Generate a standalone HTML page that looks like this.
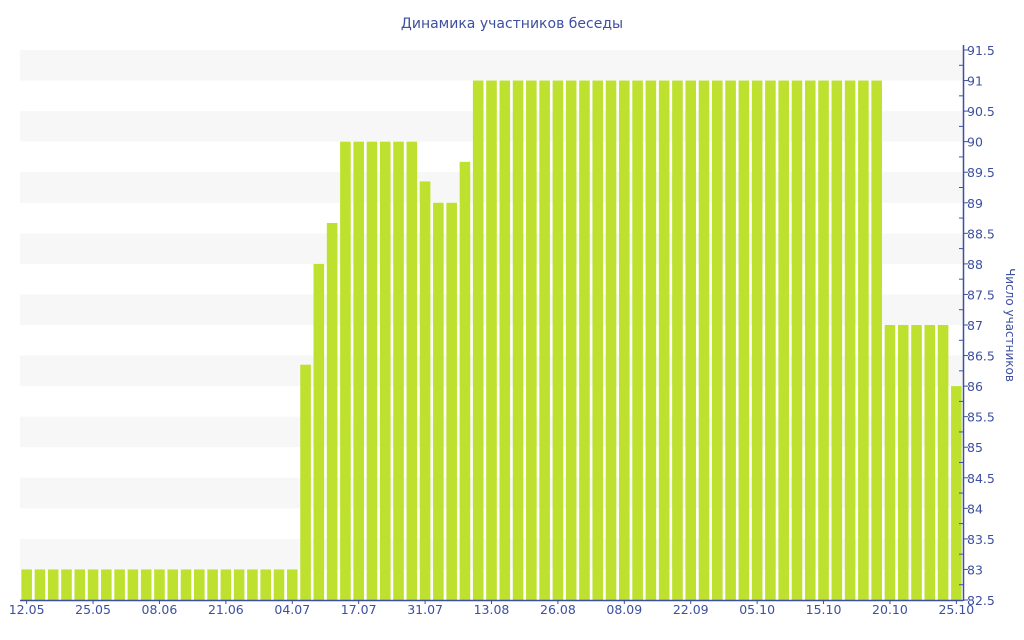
<!DOCTYPE html>
<html><head><meta charset="utf-8"><style>
body{margin:0;background:#fff;}
svg{display:block;font-family:"DejaVu Sans","Liberation Sans",sans-serif;}
</style></head><body>
<svg id="chart" width="1024" height="640">
<text x="512" y="28" text-anchor="middle" font-size="14" fill="#3d4fa0">Динамика участников беседы</text>
<g id="bands"></g><g id="bars"></g><g id="axes"></g>
<text transform="translate(1006,325) rotate(90)" text-anchor="middle" font-size="12" fill="#3d4fa0">Число участников</text>
</svg>
<script>
const tickLabels = ["12.05","25.05","08.06","21.06","04.07","17.07","31.07","13.08","26.08","08.09","22.09","05.10","15.10","20.10","25.10"];
const values = [83,83,83,83,83,83,83,83,83,83,83,83,83,83,83,83,83,83,83,83,83,
 86.35,88,88.67,90,90,90,90,90,90,89.35,89,89,89.67,
 91,91,91,91,91,91,91,91,91,91,91,91,91,91,91,91,91,91,91,91,91,91,91,91,91,91,91,91,91,91,91,
 87,87,87,87,87,86];
const yTicks = [82.5,83,83.5,84,84.5,85,85.5,86,86.5,87,87.5,88,88.5,89,89.5,90,90.5,91,91.5];
const NS="http://www.w3.org/2000/svg";
const x0=20,x1=963,yMin=82.5,yMax=91.5,yTop=50,yBot=600;
const n=values.length, step=(x1-x0)/n;
const X=i=>x0+step*(i+0.5);
const Y=v=>yBot-(v-yMin)/(yMax-yMin)*(yBot-yTop);
function mk(tag,attrs,parent){const e=document.createElementNS(NS,tag);for(const k in attrs)e.setAttribute(k,attrs[k]);parent.appendChild(e);return e;}
const bands=document.getElementById('bands'),bars=document.getElementById('bars'),axes=document.getElementById('axes');
for(let i=0;i<yTicks.length-1;i++){
  if((yTicks.length-2-i)%2===0){
    const r=mk('rect',{x:x0,y:Y(yTicks[i+1]),width:x1-x0,height:Y(yTicks[i])-Y(yTicks[i+1]),fill:'#f7f7f7'},bands);
    
    
  }
}
values.forEach((v,i)=>{
  const r=mk('rect',{x:X(i)-5.3,y:Y(v),width:10.6,height:yBot-Y(v),fill:'#bde12e'},bars);
  
  
});
mk('line',{x1:x0,y1:yBot+0.5,x2:x1,y2:yBot+0.5,stroke:'#3d4fa0','stroke-width':1.5},axes);
mk('line',{x1:x1+0.5,y1:yTop-5,x2:x1+0.5,y2:yBot+1,stroke:'#3d4fa0','stroke-width':1.5},axes);
yTicks.forEach((v,i)=>{
  const y=Y(v);
  mk('line',{x1:x1,y1:y,x2:x1+5,y2:y,stroke:'#3d4fa0'},axes);
  if(i<yTicks.length-1) mk('line',{x1:x1-4,y1:(y+Y(yTicks[i+1]))/2,x2:x1,y2:(y+Y(yTicks[i+1]))/2,stroke:'#3d4fa0'},axes);
  const t=mk('text',{x:x1+4,y:y+5,'font-size':12.5,fill:'#3d4fa0'},axes);
  t.textContent=String(v);
  
  
});
tickLabels.forEach((l,k)=>{
  const x=X(k*5);
  mk('line',{x1:x,y1:yBot,x2:x,y2:yBot+4,stroke:'#3d4fa0'},axes);
  const t=mk('text',{x:x,y:yBot+14,'font-size':12.5,fill:'#3d4fa0','text-anchor':'middle'},axes);
  t.textContent=l;
  
  
});
</script>
</body></html>
